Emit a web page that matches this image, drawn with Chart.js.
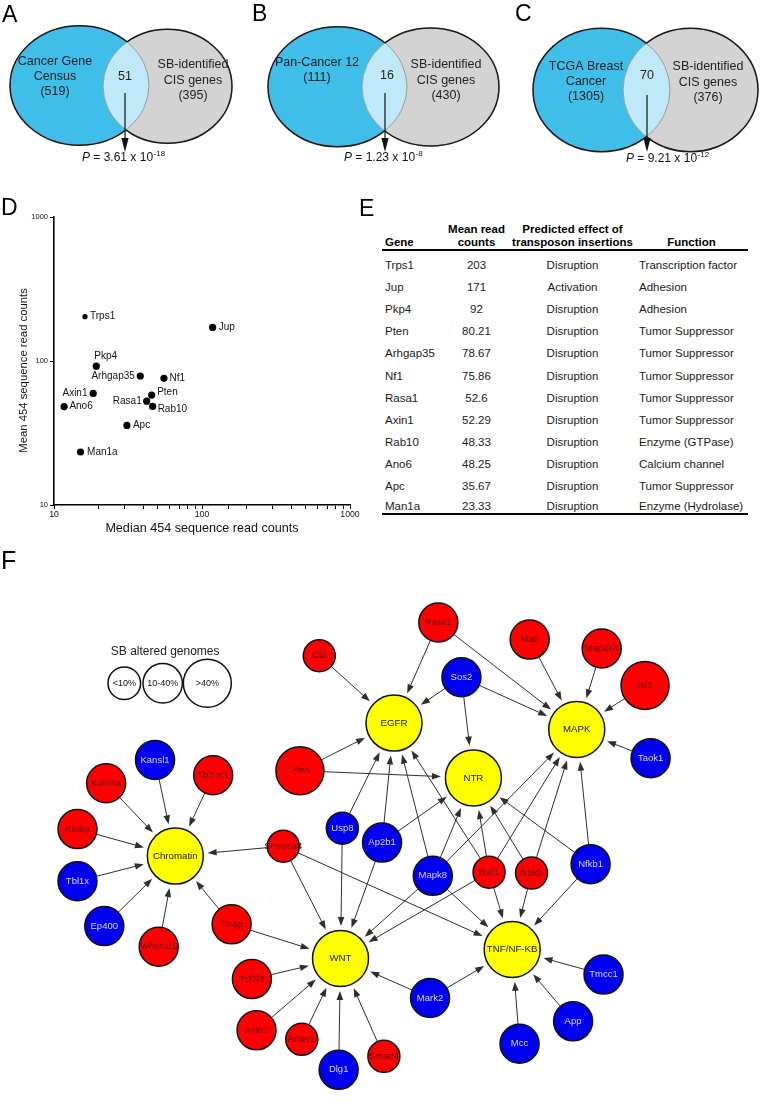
<!DOCTYPE html>
<html>
<head>
<meta charset="utf-8">
<title>SB CIS genes</title>
<script src="https://cdn.jsdelivr.net/npm/chart.js@4.4.1/dist/chart.umd.min.js"></script>
<style>
html, body { margin:0; padding:0; background:#fff; }
#page { position:relative; width:765px; height:1120px; overflow:hidden; background:#fff;
  font-family:"Liberation Sans", Arial, Helvetica, sans-serif; color:#111; }
#page canvas { position:absolute; }
.letter { position:absolute; font-size:23px; line-height:23px; color:#000; }
.cell { position:absolute; font-size:11.5px; line-height:14px; white-space:nowrap; color:#1a1a1a; }
.head { font-weight:bold; color:#000; }
.rule { position:absolute; background:#000; height:2px; }
</style>
</head>
<body>
<div id="page">
  <canvas id="venn" width="765" height="175" style="left:0;top:0"></canvas>
  <canvas id="reads" width="365" height="340" style="left:0;top:200px"></canvas>
  <canvas id="net" width="765" height="580" style="left:0;top:540px"></canvas>
  <div id="table"></div>
  <div class="letter" style="left:2px;top:3px">A</div>
  <div class="letter" style="left:252px;top:2px">B</div>
  <div class="letter" style="left:515px;top:2px">C</div>
  <div class="letter" style="left:1px;top:196px">D</div>
  <div class="letter" style="left:359px;top:197px">E</div>
  <div class="letter" style="left:1px;top:549px;font-size:25px">F</div>
</div>
<script>
// ---- A-C overlaps
var vennSetNames = [['Cancer Gene', 'Census'], ['Pan-Cancer 12'], ['TCGA Breast', 'Cancer']];
var vennSetSizes = [519, 111, 1305];
var cisSetSizes = [395, 430, 376];
var overlapCounts = [51, 16, 70];
var pMantissa = ['3.61', '1.23', '9.21'];
var pExponent = ['-18', '-8', '-12'];

// ---- D read counts
var genes = ['Trps1', 'Jup', 'Pkp4', 'Arhgap35', 'Nf1', 'Pten', 'Rasa1', 'Rab10', 'Axin1', 'Ano6', 'Apc', 'Man1a'];
var medianReads = [16.2, 118, 19.3, 38.3, 55.3, 45.7, 42.3, 46.4, 18.4, 11.7, 31.1, 15.1];
var meanReads = [203, 171, 92, 78.67, 75.86, 58, 52.6, 48.33, 59.5, 48.25, 35.67, 23.33];
var logTicks = [10, 100, 1000];

// ---- E table
var tableGenes = ['Trps1', 'Jup', 'Pkp4', 'Pten', 'Arhgap35', 'Nf1', 'Rasa1', 'Axin1', 'Rab10', 'Ano6', 'Apc', 'Man1a'];
var tableMean = ['203', '171', '92', '80.21', '78.67', '75.86', '52.6', '52.29', '48.33', '48.25', '35.67', '23.33'];
var tableEffect = ['Disruption', 'Activation', 'Disruption', 'Disruption', 'Disruption', 'Disruption',
  'Disruption', 'Disruption', 'Disruption', 'Disruption', 'Disruption', 'Disruption'];
var tableFunction = ['Transcription factor', 'Adhesion', 'Adhesion', 'Tumor Suppressor', 'Tumor Suppressor',
  'Tumor Suppressor', 'Tumor Suppressor', 'Tumor Suppressor', 'Enzyme (GTPase)', 'Calcium channel',
  'Tumor Suppressor', 'Enzyme (Hydrolase)'];

// ---- F network (layout coordinates)
var nodeNames = ['EGFR', 'MAPK', 'NTR', 'Chromatin', 'WNT', 'TNF/NF-KB',
  'Rasa1', 'Max', 'Map2k4', 'Nf1', 'Cbl', 'Sos2', 'Taok1', 'Pten', 'Kansl1', 'Kdm6a', 'Tbl1xr1', 'Kat6a',
  'Smarca4', 'Usp8', 'Ap2b1', 'Tbl1x', 'Mapk8', 'Raf1', 'Ikbkb', 'Nfkb1', 'Ep400', 'Trrap', 'Whsc1l1',
  'Tcf7l2', 'Mark2', 'Tmcc1', 'Axin1', 'App', 'Amer1', 'Mcc', 'Smad4', 'Dlg1'];
var nodeX = [395, 593, 481, 158, 337, 523,
  443, 542, 620, 667, 314, 468, 673, 293, 136, 83, 199, 52,
  275, 339, 382, 52, 437, 498, 544, 608, 81, 219, 140,
  241, 434, 622, 246, 589, 295, 531, 384, 335];
var nodeY = [711, 718, 772, 859, 973, 963,
  599, 618, 628, 669, 636, 660, 750, 764, 752, 778, 769, 829,
  848, 828, 844, 887, 881, 877, 878, 868, 937, 935, 960,
  996, 1017, 991, 1053, 1043, 1063, 1068, 1082, 1097];
var nodeGroup = ['hub', 'hub', 'hub', 'hub', 'hub', 'hub',
  'r', 'r', 'r', 'r', 'r', 'b', 'b', 'r', 'b', 'r', 'r', 'r',
  'r', 'b', 'b', 'b', 'b', 'r', 'r', 'b', 'b', 'r', 'r',
  'r', 'b', 'b', 'r', 'b', 'r', 'b', 'r', 'b'];
// SB altered genomes: 0 = <10%, 1 = 10-40%, 2 = >40%, -1 = pathway hub
var nodeAltered = [-1, -1, -1, -1, -1, -1,
  1, 1, 1, 2, 0, 1, 1, 2, 1, 1, 1, 1,
  0, 0, 1, 1, 1, 0, 0, 1, 1, 1, 1,
  1, 1, 1, 1, 1, 0, 1, 0, 1];
var edgeFrom = ['Cbl', 'Rasa1', 'Rasa1', 'Sos2', 'Sos2', 'Sos2', 'Max', 'Map2k4', 'Nf1', 'Taok1',
  'Pten', 'Pten', 'Usp8', 'Usp8', 'Ap2b1', 'Ap2b1', 'Ap2b1',
  'Mapk8', 'Mapk8', 'Mapk8', 'Mapk8', 'Mapk8', 'Raf1', 'Raf1', 'Raf1', 'Raf1', 'Raf1',
  'Ikbkb', 'Ikbkb', 'Ikbkb', 'Nfkb1', 'Nfkb1', 'Nfkb1', 'Smarca4', 'Smarca4', 'Smarca4',
  'Kdm6a', 'Kansl1', 'Tbl1xr1', 'Kat6a', 'Tbl1x', 'Ep400', 'Whsc1l1', 'Trrap', 'Trrap',
  'Tcf7l2', 'Axin1', 'Amer1', 'Dlg1', 'Smad4', 'Mark2', 'Mark2', 'Tmcc1', 'App', 'Mcc'];
var edgeTo = ['EGFR', 'EGFR', 'MAPK', 'EGFR', 'NTR', 'MAPK', 'MAPK', 'MAPK', 'MAPK', 'MAPK',
  'EGFR', 'NTR', 'EGFR', 'WNT', 'EGFR', 'NTR', 'WNT',
  'EGFR', 'NTR', 'MAPK', 'WNT', 'TNF/NF-KB', 'EGFR', 'NTR', 'MAPK', 'WNT', 'TNF/NF-KB',
  'NTR', 'MAPK', 'TNF/NF-KB', 'NTR', 'MAPK', 'TNF/NF-KB', 'Chromatin', 'WNT', 'TNF/NF-KB',
  'Chromatin', 'Chromatin', 'Chromatin', 'Chromatin', 'Chromatin', 'Chromatin', 'Chromatin', 'Chromatin', 'WNT',
  'WNT', 'WNT', 'WNT', 'WNT', 'WNT', 'WNT', 'TNF/NF-KB', 'TNF/NF-KB', 'TNF/NF-KB', 'TNF/NF-KB'];
var legendLabels = ['<10%', '10-40%', '>40%'];

var FONT = '"Liberation Sans", Arial, Helvetica, sans-serif';
Chart.defaults.font.family = FONT;
Chart.defaults.color = '#111';

// ================= A-C venn diagrams =================
var vennGeom = [
  { left: [79.5, 85.5, 69.5, 59.7], right: [167.5, 86.3, 64.5, 57], leftLabel: [55, 62], midLabel: [125, 77], rightLabel: [193, 65], arrow: [125, 93, 152], pText: [82, 157] },
  { left: [337.5, 86.7, 69.5, 60], right: [430.5, 87, 68.5, 59], leftLabel: [317, 63], midLabel: [387, 76], rightLabel: [446, 65], arrow: [385, 93, 152], pText: [344, 157] },
  { left: [601.5, 90, 68.5, 61.7], right: [690.5, 90, 67.5, 61.7], leftLabel: [586, 67], midLabel: [647, 76], rightLabel: [708, 67], arrow: [647, 95, 152], pText: [626, 158] }
];

function ellipsePath(ctx, e) {
  ctx.ellipse(e.x, e.y, e.rx, e.ry, 0, 0, Math.PI * 2);
}

function drawArrow(ctx, x0, y0, x1, y1, len, half) {
  var dx = x1 - x0, dy = y1 - y0, d = Math.sqrt(dx * dx + dy * dy);
  var ux = dx / d, uy = dy / d;
  ctx.beginPath();
  ctx.moveTo(x0, y0);
  ctx.lineTo(x1 - ux * (len - 1), y1 - uy * (len - 1));
  ctx.stroke();
  ctx.beginPath();
  ctx.moveTo(x1, y1);
  ctx.lineTo(x1 - ux * len - uy * half, y1 - uy * len + ux * half);
  ctx.lineTo(x1 - ux * len + uy * half, y1 - uy * len - ux * half);
  ctx.closePath();
  ctx.fill();
}

var vennPlugin = {
  id: 'venn',
  afterDatasetsDraw: function (chart) {
    var ctx = chart.ctx, xs = chart.scales.x, ys = chart.scales.y;
    var W = chart.width, H = chart.height;
    vennGeom.forEach(function (g, k) {
      var meta = chart.getDatasetMeta(k);
      function ell(el, spec) {
        return {
          x: el.x, y: el.y,
          rx: Math.abs(xs.getPixelForValue(spec[0] + spec[2]) - xs.getPixelForValue(spec[0])),
          ry: Math.abs(ys.getPixelForValue(spec[1] + spec[3]) - ys.getPixelForValue(spec[1]))
        };
      }
      var L = ell(meta.data[0], g.left), R = ell(meta.data[1], g.right);
      ctx.save();
      ctx.fillStyle = '#3fbeea';
      ctx.beginPath(); ellipsePath(ctx, L); ctx.fill();
      ctx.fillStyle = '#d3d3d3';
      ctx.beginPath(); ellipsePath(ctx, R); ctx.fill();
      ctx.save();
      ctx.beginPath(); ellipsePath(ctx, L); ctx.clip();
      ctx.fillStyle = '#bfe8f8';
      ctx.beginPath(); ellipsePath(ctx, R); ctx.fill();
      ctx.restore();
      // inner arcs
      ctx.strokeStyle = '#9a9a9a'; ctx.lineWidth = 1;
      ctx.beginPath(); ellipsePath(ctx, L); ctx.stroke();
      ctx.beginPath(); ellipsePath(ctx, R); ctx.stroke();
      // outer borders
      [[L, R], [R, L]].forEach(function (p) {
        ctx.save();
        ctx.beginPath(); ctx.rect(0, 0, W, H); ellipsePath(ctx, p[1]); ctx.clip('evenodd');
        ctx.strokeStyle = '#1a1a1a'; ctx.lineWidth = 1.5;
        ctx.beginPath(); ellipsePath(ctx, p[0]); ctx.stroke();
        ctx.restore();
      });
      // labels
      ctx.fillStyle = '#222';
      ctx.font = '12.5px ' + FONT;
      ctx.textAlign = 'center'; ctx.textBaseline = 'middle';
      var leftLines = vennSetNames[k].concat(['(' + vennSetSizes[k] + ')']);
      leftLines.forEach(function (t, i) {
        ctx.fillText(t, xs.getPixelForValue(g.leftLabel[0]), ys.getPixelForValue(g.leftLabel[1] + i * 15));
      });
      ['SB-identified', 'CIS genes', '(' + cisSetSizes[k] + ')'].forEach(function (t, i) {
        ctx.fillText(t, xs.getPixelForValue(g.rightLabel[0]), ys.getPixelForValue(g.rightLabel[1] + i * 15.3));
      });
      ctx.fillText(String(overlapCounts[k]), xs.getPixelForValue(g.midLabel[0]), ys.getPixelForValue(g.midLabel[1]));
      // arrow to p value
      ctx.strokeStyle = '#111'; ctx.fillStyle = '#111'; ctx.lineWidth = 1.2;
      var ax = xs.getPixelForValue(g.arrow[0]);
      drawArrow(ctx, ax, ys.getPixelForValue(g.arrow[1]), ax, ys.getPixelForValue(g.arrow[2]), 14, 3.6);
      // P = ... x 10^exp
      var px = xs.getPixelForValue(g.pText[0]), base = ys.getPixelForValue(g.pText[1]) + 4.3;
      ctx.textAlign = 'left'; ctx.textBaseline = 'alphabetic'; ctx.fillStyle = '#111';
      ctx.font = 'italic 12px ' + FONT;
      ctx.fillText('P', px, base);
      px += ctx.measureText('P').width;
      ctx.font = '12px ' + FONT;
      var s = ' = ' + pMantissa[k] + ' x 10';
      ctx.fillText(s, px, base);
      px += ctx.measureText(s).width;
      ctx.font = '8px ' + FONT;
      ctx.fillText(pExponent[k], px + 0.5, base - 5);
      ctx.restore();
    });
  }
};

new Chart(document.getElementById('venn'), {
  type: 'scatter',
  data: {
    datasets: vennGeom.map(function (g) {
      return { data: [{ x: g.left[0], y: g.left[1] }, { x: g.right[0], y: g.right[1] }], pointRadius: 0, clip: false };
    })
  },
  options: {
    responsive: false, animation: false, devicePixelRatio: 1,
    layout: { padding: 0 },
    plugins: { legend: { display: false }, tooltip: { enabled: false } },
    scales: {
      x: { type: 'linear', min: 0, max: 765, display: false },
      y: { type: 'linear', min: 0, max: 175, reverse: true, display: false }
    }
  },
  plugins: [vennPlugin]
});

// ================= D scatter =================
var labelSpots = [[5, 0, 'left'], [6, 0, 'left'], [-2, -10, 'left'], [-5.5, 0, 'right'], [5.5, 0, 'left'],
  [5.5, -3, 'left'], [-5, 0, 'right'], [5, 3, 'left'], [-5.7, 0, 'right'], [5.3, 0, 'left'], [6, 0, 'left'], [6.6, 0, 'left']];

var pointLabels = {
  id: 'pointLabels',
  afterDatasetsDraw: function (chart) {
    var ctx = chart.ctx, meta = chart.getDatasetMeta(0);
    ctx.save();
    ctx.font = '10px ' + FONT;
    ctx.fillStyle = '#111';
    ctx.textBaseline = 'middle';
    meta.data.forEach(function (el, i) {
      var s = labelSpots[i];
      ctx.textAlign = s[2];
      ctx.fillText(genes[i], el.x + s[0], el.y + s[1]);
    });
    ctx.restore();
  }
};

function isDecade(v) {
  return logTicks.indexOf(v) >= 0;
}

new Chart(document.getElementById('reads'), {
  type: 'scatter',
  data: {
    datasets: [{
      data: genes.map(function (g, i) { return { x: medianReads[i], y: meanReads[i] }; }),
      backgroundColor: '#000',
      borderWidth: 0,
      pointRadius: function (c) { return c.dataIndex === 0 ? 2.6 : 3.6; },
      clip: false
    }]
  },
  options: {
    responsive: false, animation: false, devicePixelRatio: 1,
    layout: { padding: { left: 0, top: 17, right: 15, bottom: 0 } },
    plugins: { legend: { display: false }, tooltip: { enabled: false } },
    scales: {
      x: {
        type: 'logarithmic', min: 10, max: 1000, position: 'bottom',
        border: { display: true, color: '#000', width: 1.6 },
        grid: { display: true, drawOnChartArea: false, drawTicks: true, tickLength: 4, tickColor: '#000', tickWidth: 1 },
        ticks: {
          autoSkip: false, maxRotation: 0, padding: 0, color: '#111', font: { size: 8.7 },
          callback: function (v) { return isDecade(v) ? String(v) : ''; }
        },
        title: { display: true, text: 'Median 454 sequence read counts', color: '#111', font: { size: 12.6 }, padding: { top: 0, bottom: 4.4 } },
        afterFit: function (s) { s.height = 35; }
      },
      y: {
        type: 'logarithmic', min: 10, max: 1000, position: 'left',
        border: { display: true, color: '#000', width: 1.6 },
        grid: { display: true, drawOnChartArea: false, drawTicks: true, tickLength: 4, tickColor: '#000', tickWidth: 1 },
        ticks: {
          autoSkip: false, padding: 2, color: '#111', font: { size: 7.5 },
          callback: function (v) { return isDecade(v) ? String(v) : ''; }
        },
        afterBuildTicks: function (s) {
          s.ticks = s.ticks.filter(function (t) { return isDecade(t.value); });
        },
        title: { display: true, text: 'Mean 454 sequence read counts      ', color: '#111', font: { size: 11.3 }, padding: { top: 17.2, bottom: 0 } },
        afterFit: function (s) { s.width = 54; }
      }
    }
  },
  plugins: [pointLabels]
});

// ================= E table =================
var tbl = document.getElementById('table');
function cell(text, x, yc, align, bold) {
  var d = document.createElement('div');
  d.className = 'cell' + (bold ? ' head' : '');
  d.textContent = text;
  d.style.top = (yc - 7) + 'px';
  if (align === 'center') {
    d.style.left = (x - 100) + 'px';
    d.style.width = '200px';
    d.style.textAlign = 'center';
  } else {
    d.style.left = x + 'px';
  }
  tbl.appendChild(d);
}
function rule(y) {
  var d = document.createElement('div');
  d.className = 'rule';
  d.style.left = '382px'; d.style.width = '366px'; d.style.top = y + 'px';
  tbl.appendChild(d);
}
cell('Gene', 385, 242, 'left', true);
cell('Mean read', 476.5, 228.5, 'center', true);
cell('counts', 476.5, 241.5, 'center', true);
cell('Predicted effect of', 572.5, 228.5, 'center', true);
cell('transposon insertions', 572.5, 241.5, 'center', true);
cell('Function', 691.5, 242, 'center', true);
rule(249);
tableGenes.forEach(function (g, i) {
  var y = i < tableGenes.length - 1 ? 265 + 22.1 * i : 506;
  cell(g, 385, y, 'left');
  cell(tableMean[i], 476.5, y, 'center');
  cell(tableEffect[i], 572.5, y, 'center');
  cell(tableFunction[i], 639, y, 'left');
});
rule(512.5);

// ================= F network =================
var nodeRadii = [16, 19.5, 24];
var hubRadius = 28;
var groupFill = { hub: '#ffff00', r: '#ff0000', b: '#0000f0' };
var groupText = { hub: '#111', r: '#5a0000', b: '#dcdcff' };
var legendLayout = { title: [147, 632], x: [102.7, 144.3, 192.7], y: 666.7, r: [16.3, 19.7, 24] };

function nodeRadius(i) {
  return nodeAltered[i] < 0 ? hubRadius : nodeRadii[nodeAltered[i]];
}

var edgePlugin = {
  id: 'edges',
  beforeDatasetsDraw: function (chart) {
    var ctx = chart.ctx, meta = chart.getDatasetMeta(0);
    ctx.save();
    ctx.strokeStyle = '#2e2e2e'; ctx.fillStyle = '#2e2e2e'; ctx.lineWidth = 1;
    edgeFrom.forEach(function (s, k) {
      var i = nodeNames.indexOf(s), j = nodeNames.indexOf(edgeTo[k]);
      var a = meta.data[i], b = meta.data[j];
      var dx = b.x - a.x, dy = b.y - a.y, d = Math.sqrt(dx * dx + dy * dy);
      var ux = dx / d, uy = dy / d;
      var ra = nodeRadius(i), rb = nodeRadius(j) + 4.5;
      drawArrow(ctx, a.x + ux * ra, a.y + uy * ra, b.x - ux * rb, b.y - uy * rb, 9, 3.3);
    });
    ctx.restore();
  }
};

var nodeLabels = {
  id: 'nodeLabels',
  afterDatasetsDraw: function (chart) {
    var ctx = chart.ctx, meta = chart.getDatasetMeta(0), lmeta = chart.getDatasetMeta(1);
    ctx.save();
    ctx.textAlign = 'center'; ctx.textBaseline = 'middle';
    meta.data.forEach(function (el, i) {
      var g = nodeGroup[i];
      ctx.font = (g === 'hub' ? '9.7px ' : '9.5px ') + FONT;
      ctx.fillStyle = groupText[g];
      ctx.fillText(nodeNames[i], el.x, el.y);
    });
    ctx.fillStyle = '#111';
    ctx.font = '9px ' + FONT;
    lmeta.data.forEach(function (el, i) {
      ctx.fillText(legendLabels[i], el.x, el.y);
    });
    ctx.font = '12px ' + FONT;
    ctx.fillStyle = '#222';
    ctx.fillText('SB altered genomes', chart.scales.x.getPixelForValue(legendLayout.title[0]),
      chart.scales.y.getPixelForValue(legendLayout.title[1]));
    ctx.restore();
  }
};

new Chart(document.getElementById('net'), {
  type: 'scatter',
  data: {
    datasets: [{
      data: nodeNames.map(function (n, i) { return { x: nodeX[i], y: nodeY[i] }; }),
      pointRadius: function (c) { return nodeRadius(c.dataIndex); },
      backgroundColor: function (c) { return groupFill[nodeGroup[c.dataIndex]]; },
      borderColor: '#111',
      borderWidth: 1.5,
      clip: false
    }, {
      data: legendLabels.map(function (l, i) { return { x: legendLayout.x[i], y: legendLayout.y }; }),
      pointRadius: function (c) { return legendLayout.r[c.dataIndex]; },
      backgroundColor: '#fff',
      borderColor: '#111',
      borderWidth: 1.5,
      clip: false
    }]
  },
  options: {
    responsive: false, animation: false, devicePixelRatio: 1,
    layout: { padding: 0 },
    plugins: { legend: { display: false }, tooltip: { enabled: false } },
    scales: {
      x: { type: 'linear', min: 0, max: 765, display: false },
      y: { type: 'linear', min: 540, max: 1120, reverse: true, display: false }
    }
  },
  plugins: [edgePlugin, nodeLabels]
});
</script>
</body>
</html>
